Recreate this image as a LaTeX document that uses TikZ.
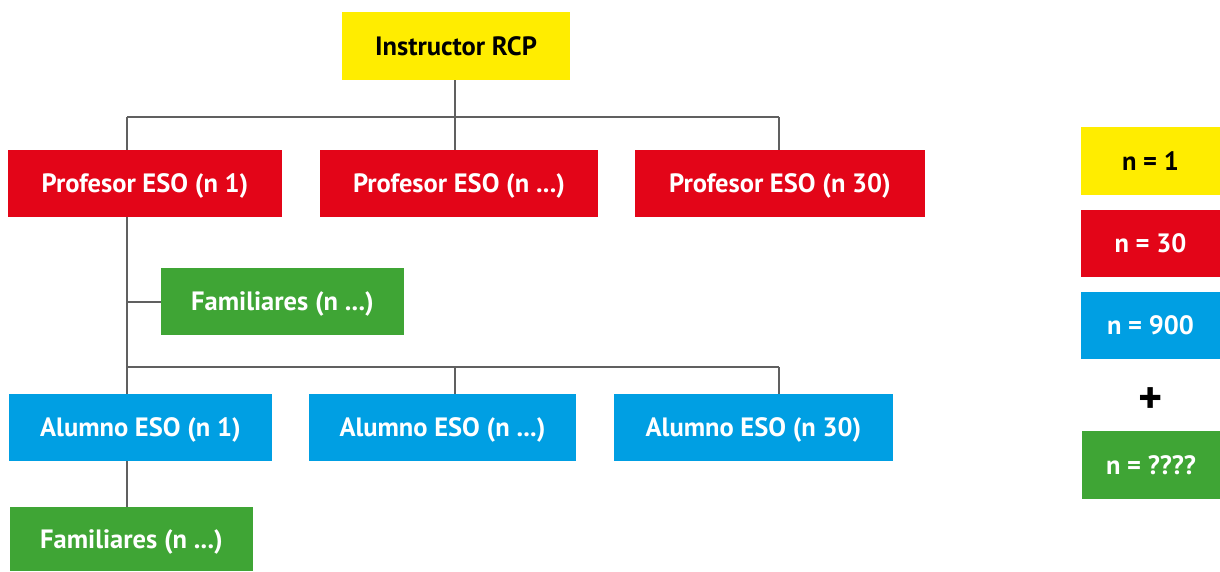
\documentclass[tikz,border=0pt]{standalone}
\usepackage{fontspec}
\setmainfont{PT Sans}
\definecolor{cyel}{HTML}{FFED00}
\definecolor{cred}{HTML}{E30518}
\definecolor{cblu}{HTML}{009FE3}
\definecolor{cgrn}{HTML}{3FA535}
\definecolor{cline}{HTML}{606060}
\begin{document}
\begin{tikzpicture}[x=1pt,y=-1pt,
  box/.style={anchor=north west,inner sep=0pt,outer sep=0pt,text=white,
    text depth=0pt,font=\fontsize{26.5}{30}\selectfont\bfseries},
  conn/.style={draw=cline,line width=2pt}]
\useasboundingbox (0,0) rectangle (1220,571);
% tree
\node[box,fill=cyel,text=black,minimum width=228pt,minimum height=68pt] (ins) at (342,12) {Instructor RCP};
\node[box,fill=cred,minimum width=274pt,minimum height=67pt] (p1) at (8,150) {Profesor ESO (n 1)};
\node[box,fill=cred,minimum width=278pt,minimum height=67pt] (p2) at (320,150) {Profesor ESO (n ...)};
\node[box,fill=cred,minimum width=290pt,minimum height=67pt] (p3) at (635,150) {Profesor ESO (n 30)};
\node[box,fill=cgrn,minimum width=243pt,minimum height=67pt] (f1) at (161,268) {Familiares (n ...)};
\node[box,fill=cblu,minimum width=263pt,minimum height=67pt] (a1) at (9,394) {Alumno ESO (n 1)};
\node[box,fill=cblu,minimum width=267pt,minimum height=67pt] (a2) at (309,394) {Alumno ESO (n ...)};
\node[box,fill=cblu,minimum width=279pt,minimum height=67pt] (a3) at (614,394) {Alumno ESO (n 30)};
\node[box,fill=cgrn,minimum width=243pt,minimum height=64pt] (f2) at (10,507) {Familiares (n ...)};
% legend
\node[box,fill=cyel,text=black,minimum width=139pt,minimum height=68pt] (l1) at (1081,127) {n = 1};
\node[box,fill=cred,minimum width=139pt,minimum height=67pt] (l2) at (1081,210) {n = 30};
\node[box,fill=cblu,minimum width=139pt,minimum height=67pt] (l3) at (1081,292) {n = 900};
\node[font=\fontsize{46}{46}\selectfont\bfseries,inner sep=0pt] (plus) at (1151,401) {+};
\node[box,fill=cgrn,minimum width=138pt,minimum height=68pt] (l4) at (1082,431) {n = ????};
% connectors
\coordinate (b1l) at (127,117);
\coordinate (b1r) at (779,117);
\coordinate (b2l) at (127,367);
\coordinate (b2r) at (779,367);
\draw[conn] (b1l) -- (b1r);
\draw[conn] (ins.south -| 455,0) -- (455,117) coordinate (b1m);
\draw[conn] (b1l) -- (b1l |- p1.north);
\draw[conn] (b1m) -- (b1m |- p2.north);
\draw[conn] (b1r) -- (b1r |- p3.north);
\draw[conn] (b1l |- p1.south) -- (b1l |- a1.north);
\draw[conn] (b1l |- f1.west) -- (f1.west);
\draw[conn] (b2l) -- (b2r);
\draw[conn] (b2l -| b1m) -- (b1m |- a2.north);
\draw[conn] (b2r) -- (b2r |- a3.north);
\draw[conn] (b1l |- a1.south) -- (b1l |- f2.north);
\end{tikzpicture}
\end{document}
